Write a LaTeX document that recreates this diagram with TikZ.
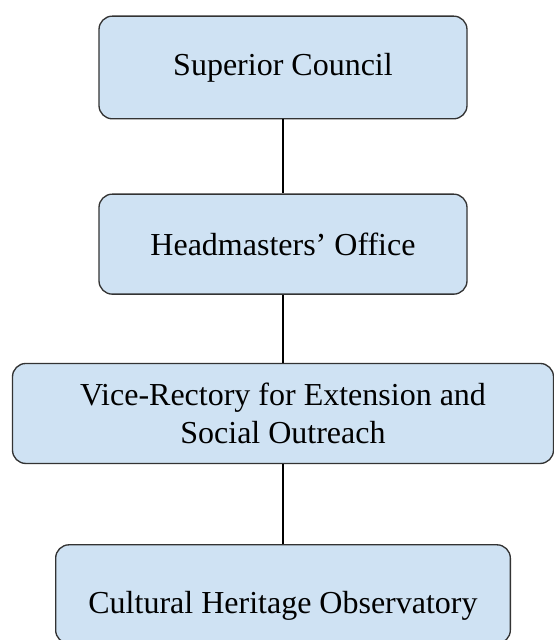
\documentclass[tikz,border=0pt]{standalone}
\usepackage{fontspec}
\setmainfont{Liberation Serif}
\definecolor{orgblue}{HTML}{CFE2F3}
\definecolor{orgline}{HTML}{333333}
\usetikzlibrary{positioning}

\begin{document}
\begin{tikzpicture}[
    orgbox/.style={draw=orgline, line width=1pt, rectangle, rounded corners=10pt, fill=orgblue,
      align=center, font=\fontsize{24}{29}\selectfont},
    link/.style={draw=black, line width=0.8pt}]
      \useasboundingbox (0,0) rectangle (415.5pt,-480pt);

      \node (council) [orgbox, minimum width=276pt, minimum height=77pt] at (212.25pt,-50.6pt) {Superior Council};
      \node (office) [orgbox, minimum width=276pt, minimum height=75pt, below=55.5pt of council] {Headmasters' Office};
      \node (vicerect) [orgbox, minimum width=405.75pt, minimum height=75pt, below=51pt of office] {Vice-Rectory for Extension and\\Social Outreach};
      \node (observ) [orgbox, minimum width=341pt, minimum height=74pt, text height=35pt, text depth=6pt, below=60pt of vicerect] {Cultural Heritage Observatory};

      \draw [link] (council) -- (office);
      \draw [link] (office) -- (vicerect);
      \draw [link] (vicerect) -- (observ);
    \end{tikzpicture}
\end{document}
